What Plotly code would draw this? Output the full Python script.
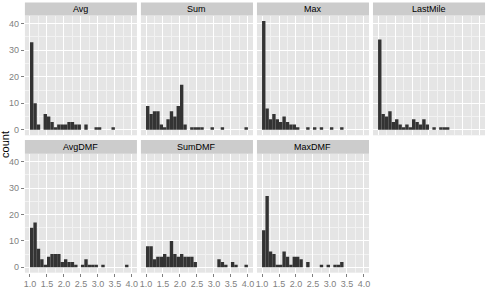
import plotly.graph_objects as go

# ---- data (counts per bin, 30 bins of width 0.1 starting at 1.0) ----
panel_names = ["Avg", "Sum", "Max", "LastMile", "AvgDMF", "SumDMF", "MaxDMF"]

avg_counts = [33, 10, 2, 0, 6, 5, 3, 1, 2, 2, 2, 3, 3, 2, 2, 0, 2, 0, 0, 1,
              1, 0, 0, 0, 1, 0, 0, 0, 0, 0]
sum_counts = [9, 6, 7, 7, 2, 1, 4, 7, 5, 9, 17, 2, 0, 1, 1, 1, 1, 0, 0, 1,
              0, 0, 1, 0, 0, 0, 0, 0, 0, 1]
max_counts = [41, 8, 4, 6, 4, 3, 5, 3, 2, 2, 1, 0, 0, 1, 0, 1, 0, 1, 0, 0,
              1, 0, 0, 1, 0, 0, 0, 0, 0, 0]
lastmile_counts = [34, 6, 5, 7, 3, 4, 2, 1, 2, 1, 4, 3, 2, 4, 2, 0, 1, 0, 1, 1,
                   1, 0, 0, 0, 0, 0, 0, 0, 0, 0]
avgdmf_counts = [15, 17, 7, 3, 1, 4, 5, 5, 5, 2, 3, 2, 2, 1, 0, 1, 3, 1, 1, 1,
                 0, 1, 0, 0, 0, 0, 0, 0, 1, 0]
sumdmf_counts = [8, 8, 3, 4, 4, 5, 4, 10, 5, 4, 5, 4, 4, 4, 2, 0, 0, 0, 0, 0,
                 0, 3, 2, 1, 0, 2, 1, 0, 0, 1]
maxdmf_counts = [14, 27, 6, 5, 1, 1, 6, 4, 1, 4, 4, 3, 0, 2, 0, 0, 0, 1, 0, 1,
                 0, 1, 1, 2, 0, 0, 0, 0, 0, 0]

bin_start = 1.0
bin_width = 0.1

x_tick_vals = [1.0, 1.5, 2.0, 2.5, 3.0, 3.5, 4.0]
x_tick_text = ["1.0", "1.5", "2.0", "2.5", "3.0", "3.5", "4.0"]
y_tick_vals = [0, 10, 20, 30, 40]
y_tick_text = ["0", "10", "20", "30", "40"]

all_counts = [avg_counts, sum_counts, max_counts, lastmile_counts,
              avgdmf_counts, sumdmf_counts, maxdmf_counts]

# ---- layout geometry (pixels) ----
W, H = 490, 289
col_left = [24, 140.5, 257, 373.5]
panel_w = 112.5
rows = [(15.8, 137.2), (155.9, 276.5)]  # (top, bottom) of plot areas
strip_top = [2.5, 142.0]

FONT = "Liberation Sans, Arial, sans-serif"
GREY_TXT = "#7F7F7F"

fig = go.Figure()
layout = dict(
    width=W, height=H,
    margin=dict(l=0, r=0, t=0, b=0),
    paper_bgcolor="white",
    plot_bgcolor="#E5E5E5",
    showlegend=False,
    font=dict(family=FONT, size=9, color="black"),
    shapes=[], annotations=[],
)

for i, (name, counts) in enumerate(zip(panel_names, all_counts)):
    r, c = divmod(i, 4)
    idx = "" if i == 0 else str(i + 1)
    centers = [bin_start + (k + 0.5) * bin_width for k in range(len(counts))]
    fig.add_trace(go.Bar(
        x=centers, y=counts, width=bin_width,
        marker=dict(color="#333333", line=dict(width=0)),
        xaxis="x" + idx, yaxis="y" + idx, hoverinfo="skip",
    ))
    x0 = col_left[c] / W
    x1 = (col_left[c] + panel_w) / W
    top, bot = rows[r]
    y0 = 1 - bot / H
    y1 = 1 - top / H
    bottom_row = (r == 1)
    left_col = (c == 0)
    layout["xaxis" + idx] = dict(
        domain=[x0, x1], anchor="y" + idx, range=[0.85, 4.15],
        tickvals=x_tick_vals, ticktext=x_tick_text,
        showticklabels=bottom_row, ticks="outside" if bottom_row else "",
        ticklen=3, tickcolor=GREY_TXT, tickwidth=1,
        tickfont=dict(family=FONT, size=9, color=GREY_TXT),
        showgrid=True, gridcolor="white", gridwidth=1,
        minor=dict(tickvals=[1.25, 1.75, 2.25, 2.75, 3.25, 3.75],
                   showgrid=True, gridcolor="#F2F2F2", gridwidth=0.6, ticks=""),
        zeroline=False, showline=False, fixedrange=True,
    )
    layout["yaxis" + idx] = dict(
        domain=[y0, y1], anchor="x" + idx, range=[-2.05, 43.05],
        tickvals=y_tick_vals, ticktext=y_tick_text,
        showticklabels=left_col, ticks="outside" if left_col else "",
        ticklen=3, tickcolor=GREY_TXT, tickwidth=1,
        tickfont=dict(family=FONT, size=9, color=GREY_TXT),
        showgrid=True, gridcolor="white", gridwidth=1,
        minor=dict(tickvals=[5, 15, 25, 35],
                   showgrid=True, gridcolor="#F2F2F2", gridwidth=0.6, ticks=""),
        zeroline=False, showline=False, fixedrange=True,
    )
    # facet strip
    st = strip_top[r]
    layout["shapes"].append(dict(
        type="rect", xref="paper", yref="paper",
        x0=x0, x1=x1, y0=y1, y1=1 - st / H,
        fillcolor="#CCCCCC", line=dict(width=0), layer="below",
    ))
    layout["annotations"].append(dict(
        text=name, xref="paper", yref="paper",
        x=(x0 + x1) / 2, y=1 - ((st + top) / 2) / H,
        xanchor="center", yanchor="middle", showarrow=False,
        font=dict(family=FONT, size=9, color="black"),
    ))

layout["annotations"].append(dict(
    text="count", xref="paper", yref="paper",
    x=4.5 / W, y=1 - 146.5 / H, textangle=-90,
    xanchor="center", yanchor="middle", showarrow=False,
    font=dict(family=FONT, size=11, color="black"),
))

fig.update_layout(**layout)
fig.write_html("out.html")
